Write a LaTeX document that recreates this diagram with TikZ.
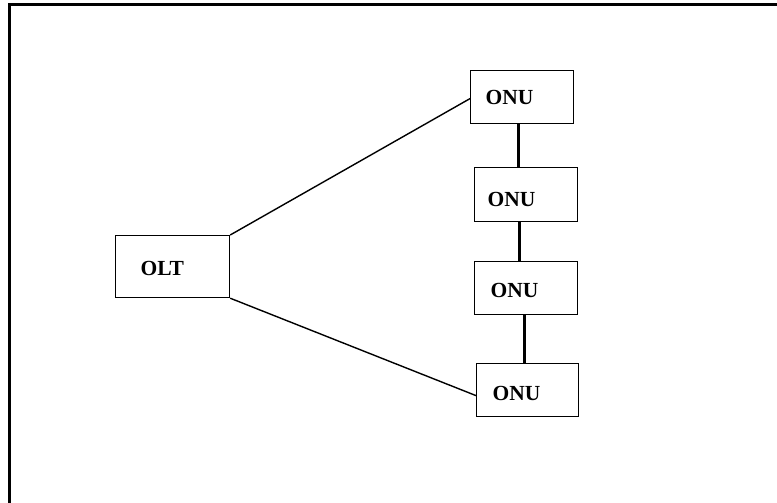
\documentclass[tikz,border=0pt]{standalone}
\usepackage{fontspec}
\setmainfont{Liberation Serif}
\newcommand{\dropby}[2]{\raisebox{-#1}[\height][0pt]{#2}}
\begin{document}
\begin{tikzpicture}[x=1pt, y=-1pt,
  box/.style={draw, line width=1.2pt, minimum height=53pt, inner ysep=0pt,
    align=left, font=\fontsize{21.5}{21.5}\selectfont\bfseries},
  link/.style={line width=1.4pt},
  chain/.style={line width=2.8pt}]
\useasboundingbox (0,0) rectangle (777,503);

% frame, cut off at the right and bottom
\draw[line width=3pt] (777,4.5) -- (9.5,4.5) -- (9.5,503);

\def\xo{115}; % olt left
\def\xa{470}; % onu left edges
\def\xb{474};
\def\xc{474};
\def\xd{476};

\node[box, anchor=north west, minimum height=62pt, inner xsep=25pt, text width=64pt] (olt) at (\xo, 235) {\dropby{2pt}{OLT}};

\node[box, anchor=north west, inner xsep=15pt, text width=73pt] (a) at (\xa, 70) {\dropby{0.5pt}{ONU}};
\node[box, anchor=north west, minimum height=54pt, inner xsep=13pt, text width=77pt] (b) at (\xb, 167) {\dropby{4.5pt}{ONU}};
\node[box, anchor=north west, inner xsep=16pt, text width=71pt] (c) at (\xc, 261) {\dropby{2.5pt}{ONU}};
\node[box, anchor=north west, inner xsep=16pt, text width=70pt] (d) at (\xd, 363) {\dropby{3.5pt}{ONU}};

\draw[link] (olt.north east) -- ([yshift=-1.5pt]a.west);
\draw[link] (olt.south east) -- ([yshift=-5.5pt]d.west);

\draw[chain] ([xshift=-4pt]a.south) -- ([xshift=-8pt]b.north);
\draw[chain] ([xshift=-7pt]b.south) -- ([xshift=-7pt]c.north);
\draw[chain] ([xshift=-2pt]c.south) -- ([xshift=-3.5pt]d.north);

\end{tikzpicture}
\end{document}
